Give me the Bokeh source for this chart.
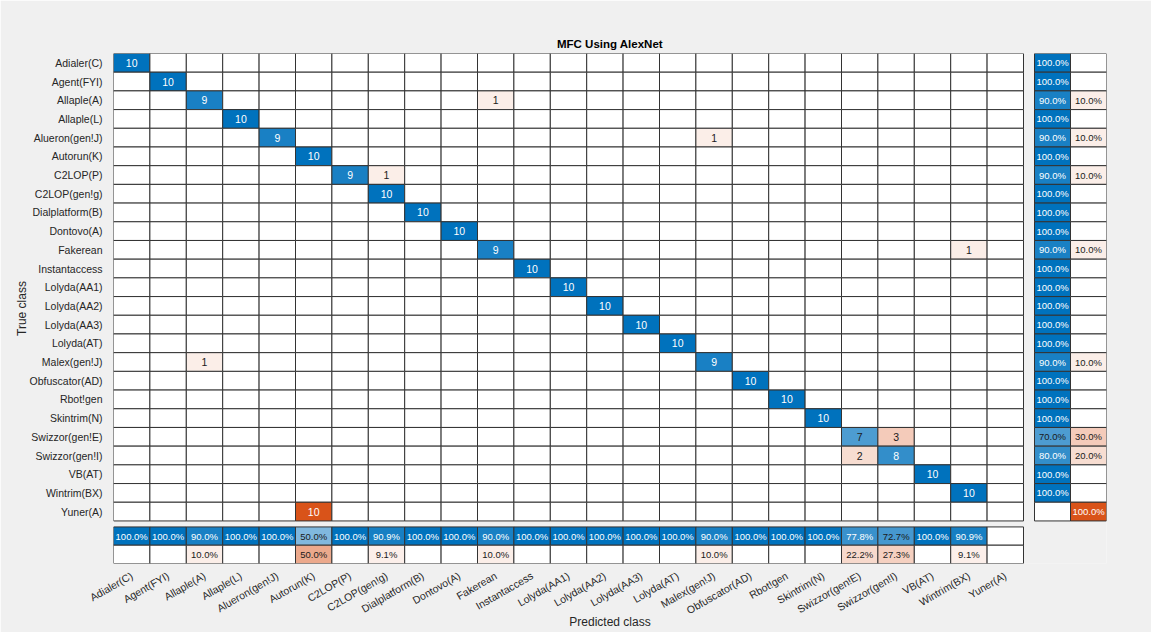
import math
from bokeh.plotting import figure
from bokeh.models import ColumnDataSource, Range1d, FixedTicker
from bokeh.core.properties import value
from bokeh.embed import file_html
from bokeh.resources import INLINE

# ---------------- data ----------------
classes = ["Adialer(C)", "Agent(FYI)", "Allaple(A)", "Allaple(L)", "Alueron(gen!J)",
           "Autorun(K)", "C2LOP(P)", "C2LOP(gen!g)", "Dialplatform(B)", "Dontovo(A)",
           "Fakerean", "Instantaccess", "Lolyda(AA1)", "Lolyda(AA2)", "Lolyda(AA3)",
           "Lolyda(AT)", "Malex(gen!J)", "Obfuscator(AD)", "Rbot!gen", "Skintrim(N)",
           "Swizzor(gen!E)", "Swizzor(gen!I)", "VB(AT)", "Wintrim(BX)", "Yuner(A)"]

diag_counts = [10, 10, 9, 10, 9, 10, 9, 10, 10, 10, 9, 10, 10, 10, 10,
               10, 9, 10, 10, 10, 7, 8, 10, 10, 0]

off_true = ["Allaple(A)", "Alueron(gen!J)", "C2LOP(P)", "Fakerean", "Malex(gen!J)",
            "Swizzor(gen!E)", "Swizzor(gen!I)", "Yuner(A)"]
off_pred = ["Fakerean", "Malex(gen!J)", "C2LOP(gen!g)", "Wintrim(BX)", "Allaple(A)",
            "Swizzor(gen!I)", "Swizzor(gen!E)", "Autorun(K)"]
off_counts = [1, 1, 1, 1, 1, 3, 2, 10]

title_text = "MFC Using AlexNet"
xlabel = "Predicted class"
ylabel = "True class"

# ---------------- build matrix ----------------
n = len(classes)
idx = {c: i for i, c in enumerate(classes)}
M = [[0] * n for _ in range(n)]
for i, v in enumerate(diag_counts):
    M[i][i] = v
for t, pr, v in zip(off_true, off_pred, off_counts):
    M[idx[t]][idx[pr]] = v
maxc = max(max(r) for r in M)

BLUE = (0, 114, 189)
ORANGE = (217, 83, 25)
DARK_TXT = "#1a1a1a"


def blend(rgb, a):
    return "#%02x%02x%02x" % tuple(int(round(255 * (1 - a) + c * a)) for c in rgb)


def txtcol(a):
    return "white" if a >= 0.75 else DARK_TXT


# layout constants (data units)
GAPX = 0.302
CW = 0.989
GAPY = 0.32
RH = 0.978
XEND = n + GAPX + 2 * CW
YEND = n + GAPY + 2 * RH

cx, cy, cw, ch, cf = [], [], [], [], []
tx, ty, tt, tc = [], [], [], []   # counts text
px, py, pt, pc = [], [], [], []   # percent text

# main grid
for i in range(n):
    for j in range(n):
        v = M[i][j]
        a = v / maxc
        col = blend(BLUE if i == j else ORANGE, a) if v > 0 else "#ffffff"
        cx.append(j + 0.5); cy.append(i + 0.5); cw.append(1); ch.append(1); cf.append(col)
        if v > 0:
            tx.append(j + 0.5); ty.append(i + 0.5); tt.append(str(v)); tc.append(txtcol(a))

# row summary
for i in range(n):
    tot = sum(M[i])
    good = M[i][i] / tot if tot else 0
    bad = (tot - M[i][i]) / tot if tot else 0
    for k, (frac, base) in enumerate([(good, BLUE), (bad, ORANGE)]):
        x0 = n + GAPX + (k + 0.5) * CW
        col = blend(base, frac) if frac > 0 else "#ffffff"
        cx.append(x0); cy.append(i + 0.5); cw.append(CW); ch.append(1); cf.append(col)
        if frac > 0:
            px.append(x0); py.append(i + 0.5); pt.append("%.1f%%" % (100 * frac)); pc.append(txtcol(frac))

# column summary
for j in range(n):
    tot = sum(M[i][j] for i in range(n))
    good = M[j][j] / tot if tot else 0
    bad = (tot - M[j][j]) / tot if tot else 0
    for k, (frac, base) in enumerate([(good, BLUE), (bad, ORANGE)]):
        y0 = n + GAPY + (k + 0.5) * RH
        col = blend(base, frac) if frac > 0 else "#ffffff"
        cx.append(j + 0.5); cy.append(y0); cw.append(1); ch.append(RH); cf.append(col)
        if frac > 0:
            px.append(j + 0.5); py.append(y0); pt.append("%.1f%%" % (100 * frac)); pc.append(txtcol(frac))

cells = ColumnDataSource(dict(x=cx, y=cy, w=cw, h=ch, c=cf))
cnt = ColumnDataSource(dict(x=tx, y=ty, t=tt, c=tc))
pct = ColumnDataSource(dict(x=px, y=py, t=pt, c=pc))

BG = "#f0f0f0"
FONT = "Liberation Sans"

p = figure(width=1151, height=632, output_backend="svg", toolbar_location=None,
           x_range=Range1d(0, XEND), y_range=Range1d(YEND, 0),
           min_border_left=113, min_border_right=45, min_border_top=53, min_border_bottom=69,
           background_fill_color=BG, border_fill_color=BG, outline_line_color=None,
           title=title_text)

p.rect(x="x", y="y", width="w", height="h", fill_color="c", line_color="#333333",
       line_width=1, source=cells)
p.text(x="x", y="y", text="t", text_color="c", text_align="center", text_baseline="middle",
       text_font=value(FONT), text_font_size="10.5px", source=cnt)
p.text(x="x", y="y", text="t", text_color="c", text_align="center", text_baseline="middle",
       text_font=value(FONT), text_font_size="9.5px", source=pct)

p.grid.visible = False

p.title.align = "center"
p.title.text_font = FONT
p.title.text_font_size = "11.5px"
p.title.text_font_style = "bold"
p.title.text_color = "#000000"
p.title.standoff = 8

p.xaxis.ticker = FixedTicker(ticks=[j + 0.5 for j in range(n)])
p.xaxis.major_label_overrides = {j + 0.5: c for j, c in enumerate(classes)}
p.xaxis.major_label_orientation = math.pi / 6
p.yaxis.ticker = FixedTicker(ticks=[i + 0.5 for i in range(n)])
p.yaxis.major_label_overrides = {i + 0.5: c for i, c in enumerate(classes)}

for ax in (p.xaxis[0], p.yaxis[0]):
    ax.axis_line_color = None
    ax.major_tick_line_color = None
    ax.minor_tick_line_color = None
    ax.major_label_text_font = FONT
    ax.major_label_text_font_size = "10.5px"
    ax.major_label_text_color = "#262626"
    ax.major_label_standoff = 5
    ax.axis_label_text_font = FONT
    ax.axis_label_text_font_size = "12px"
    ax.axis_label_text_font_style = "normal"
    ax.axis_label_text_color = "#262626"

p.yaxis.axis_label = ylabel
p.yaxis.axis_label_standoff = -2
p.xaxis.axis_label = xlabel
p.xaxis.axis_label_standoff = -9

open("out.html", "w").write(file_html(p, INLINE))
